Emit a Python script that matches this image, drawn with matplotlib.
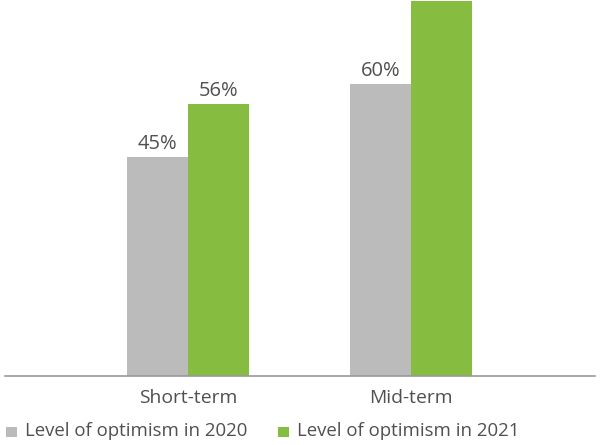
import matplotlib
matplotlib.use("Agg")
import matplotlib.pyplot as plt
from matplotlib.patches import Rectangle
import numpy as np

categories = ["Short-term", "Mid-term"]
series_names = ["Level of optimism in 2020", "Level of optimism in 2021"]
values_2020 = [45, 60]
values_2021 = [56, 77]
colors = ["#BBBBBB", "#86BD40"]
text_color = "#505050"

plt.rcParams['font.family'] = ['Open Sans', 'DejaVu Sans']

W, H = 600, 445
fig = plt.figure(figsize=(W/100, H/100), dpi=100)
ax = fig.add_axes([5/W, 69/H, 590/W, 376/H])

ymax = 77.3
x = np.arange(len(categories))
w = 0.274
b1 = ax.bar(x - w/2, values_2020, w, color=colors[0])
b2 = ax.bar(x + w/2, values_2021, w, color=colors[1])

for bars, vals in ((b1, values_2020), (b2, values_2021)):
    for r, v in zip(bars, vals):
        if v > ymax - 5:
            continue  # label falls outside the picture in the reference
        ax.annotate(f"{v}%", (r.get_x() + r.get_width()/2, v), xytext=(0, 5.8),
                    textcoords="offset points", ha="center", va="baseline",
                    fontsize=14.5, color=text_color)

ax.set_xlim(-0.82, 1.825)
ax.set_ylim(0, ymax)
ax.set_yticks([])
ax.set_xticks(x)
ax.set_xticklabels(categories, fontsize=13.9, color=text_color)
ax.tick_params(axis='x', length=0, pad=9.5)
for s in ("top", "right", "left"):
    ax.spines[s].set_visible(False)
ax.spines["bottom"].set_color("#999999")
ax.spines["bottom"].set_linewidth(1.2)

# legend drawn in figure pixel positions
leg_items = [(6, 25), (278, 297)]
for (sx, tx), c, name in zip(leg_items, colors, series_names):
    fig.patches.append(Rectangle((sx/W, (H-437)/H), 11/W, 10/H, transform=fig.transFigure,
                                 facecolor=c, edgecolor='none'))
    fig.text(tx/W, (H-436)/H, name, fontsize=13.4, color=text_color,
             ha="left", va="baseline")

fig.savefig("out.png", dpi=100)
